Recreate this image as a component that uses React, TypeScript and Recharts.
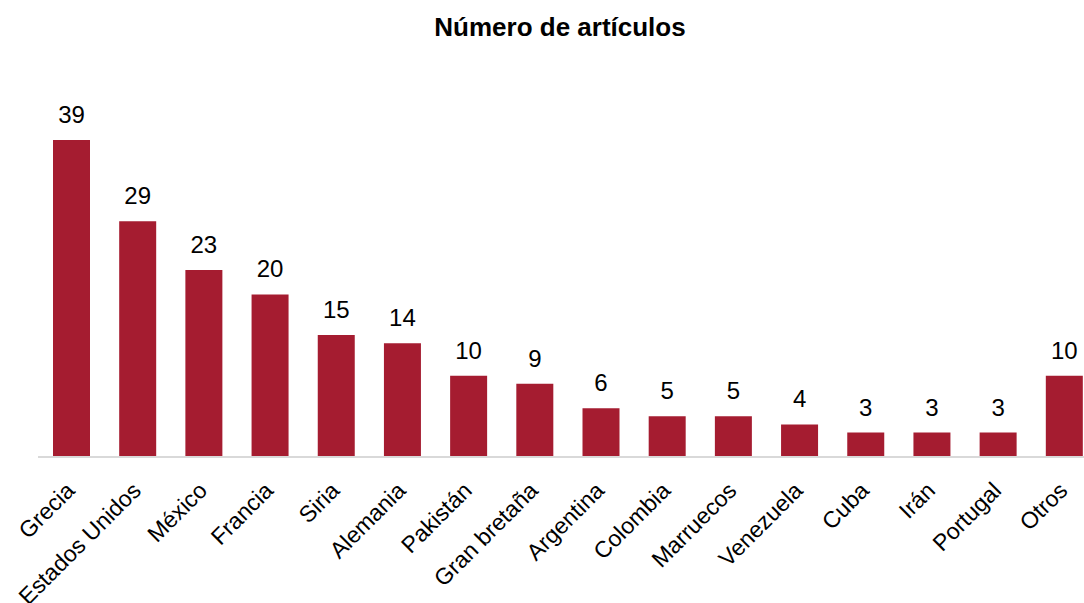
import React from 'react';
import { BarChart, Bar, XAxis, YAxis, LabelList } from 'recharts';

const countries = ['Grecia', 'Estados Unidos', 'México', 'Francia', 'Siria', 'Alemania', 'Pakistán', 'Gran bretaña', 'Argentina', 'Colombia', 'Marruecos', 'Venezuela', 'Cuba', 'Irán', 'Portugal', 'Otros'];
const articles = [39, 29, 23, 20, 15, 14, 10, 9, 6, 5, 5, 4, 3, 3, 3, 10];
const title = 'Número de artículos';

const data = countries.map((c, i) => ({ name: c, value: articles[i] }));
const FONT = '"Liberation Sans", Arial, sans-serif';

const Tick = (props: any) => {
  const { x, y, payload } = props;
  const ax = x + 5;
  const ay = y + 27;
  return (
    <text
      x={ax}
      y={ay}
      transform={`rotate(-45 ${ax} ${ay})`}
      textAnchor="end"
      fontSize={23}
      fontFamily={FONT}
      fill="#000"
    >
      {payload.value}
    </text>
  );
};

export default function App() {
  return (
    <div style={{ position: 'absolute', left: 0, top: 0, width: 1084, height: 603, overflow: 'hidden', background: '#fff' }}>
      <div style={{ position: 'absolute', left: 0, top: 12, width: 1120, textAlign: 'center', fontFamily: FONT, fontWeight: 'bold', fontSize: 26, color: '#000' }}>
        {title}
      </div>
      <div style={{ position: 'absolute', left: 0, top: 0 }}>
        <BarChart width={1100} height={603} data={data} margin={{ top: 140, right: 3, left: 38, bottom: 6 }}>
          <YAxis hide domain={[0, 39]} />
          <XAxis
            dataKey="name"
            interval={0}
            tickLine={false}
            axisLine={{ stroke: '#d9d9d9', strokeWidth: 2 }}
            tick={<Tick />}
            height={140}
          />
          <Bar dataKey="value" fill="#A51C30" barSize={37} isAnimationActive={false}>
            <LabelList dataKey="value" position="top" offset={17} fontSize={24} fontFamily={FONT} fill="#000" />
          </Bar>
        </BarChart>
      </div>
    </div>
  );
}
